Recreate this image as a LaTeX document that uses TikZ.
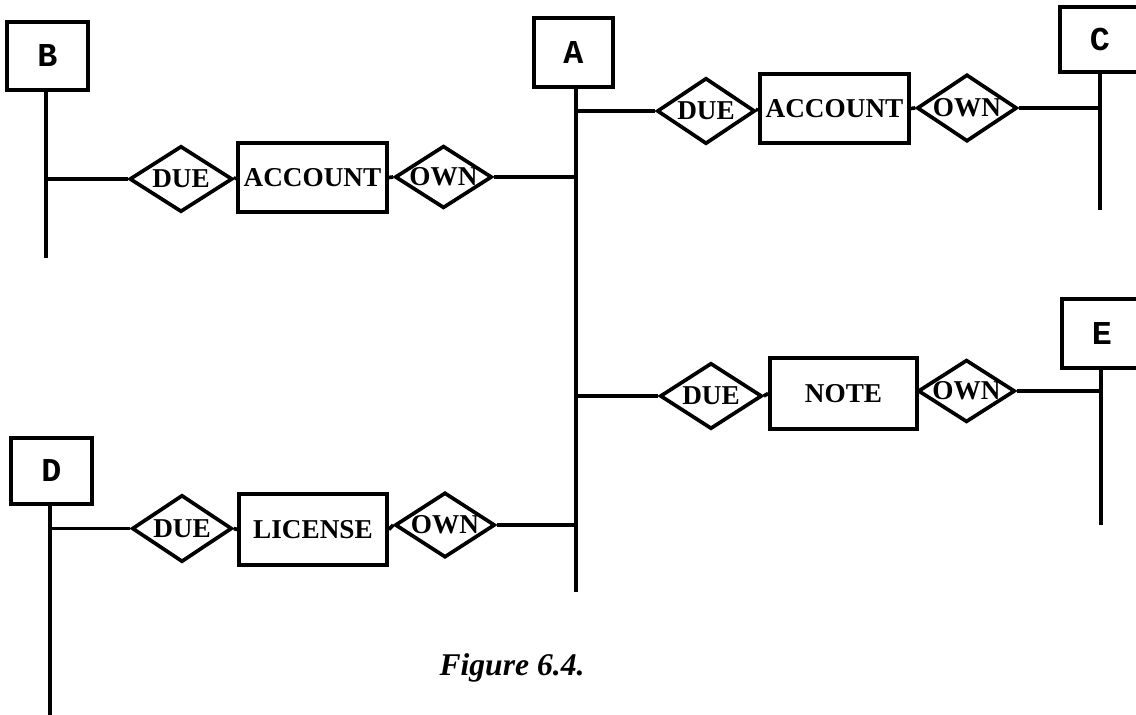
\documentclass[tikz,border=0pt]{standalone}
\usepackage{fontspec}
\setmainfont{Liberation Serif}
\newfontfamily\entfont{Liberation Mono}
\usetikzlibrary{shapes.geometric}
\begin{document}
\begin{tikzpicture}[x=0.02cm,y=-0.02cm,line width=2.1pt,
  ent/.style 2 args={draw,rectangle,inner sep=0pt,minimum width=#1*0.02cm,minimum height=#2*0.02cm,font=\entfont\bfseries\fontsize{19}{19}\selectfont},
  obj/.style 2 args={draw,rectangle,inner sep=0pt,minimum width=#1*0.02cm,minimum height=#2*0.02cm,font=\bfseries\fontsize{15.5}{16}\selectfont},
  rel/.style 2 args={draw,diamond,aspect=1.55,inner sep=0pt,minimum width=#1*0.02cm,minimum height=#2*0.02cm,font=\bfseries\fontsize{15.5}{16}\selectfont},
  caption/.style={font=\bfseries\itshape\fontsize{18}{18}\selectfont}]
\useasboundingbox (0,0) rectangle (1136,715);
% entity boxes
\node[ent={81}{68}] (B) at (47.5,56) {B};
\node[ent={79}{69}] (A) at (573.5,52.5) {A};
\node[ent={80}{65}] (C) at (1100,39.5) {C};
\node[ent={80}{69}] (E) at (1102,333.5) {E};
\node[ent={81}{66}] (D) at (51.5,471) {D};
% vertical lines
\coordinate (Bend) at (46,258);
\coordinate (Aend) at (576,592);
\coordinate (Cend) at (1100,210);
\coordinate (Eend) at (1101,525);
\coordinate (Dend) at (50,715);
\draw (B.south -| Bend) -- (Bend);
\draw (A.south -| Aend) -- (Aend);
\draw (C.south -| Cend) -- (Cend);
\draw (E.south -| Eend) -- (Eend);
\draw (D.south -| Dend) -- (Dend);
% row 1 (B - A)
\node[rel={103}{66}] (DUE1) at (181,179) {DUE};
\node[obj={149}{69}] (ACC1) at (312.5,177.5) {ACCOUNT};
\node[rel={97}{61}] (OWN1) at (443.5,177) {OWN};
\draw (DUE1.west) -- (DUE1.west -| Bend);
\draw (DUE1.east) -- (ACC1.west);
\draw (ACC1.east) -- (OWN1.west);
\draw (OWN1.east) -- (OWN1.east -| Aend);
% row 2 (A - C)
\node[rel={98}{66}] (DUE2) at (706,111) {DUE};
\node[obj={149}{69}] (ACC2) at (834.5,108.5) {ACCOUNT};
\node[rel={100}{67}] (OWN2) at (967,108) {OWN};
\draw (DUE2.west) -- (DUE2.west -| Aend);
\draw (DUE2.east) -- (ACC2.west);
\draw (ACC2.east) -- (OWN2.west);
\draw (OWN2.east) -- (OWN2.east -| Cend);
% row 3 (A - E)
\node[rel={102}{66}] (DUE3) at (711,396) {DUE};
\node[obj={147}{71}] (NOTE) at (843.5,393.5) {NOTE};
\node[rel={97}{60}] (OWN3) at (966.5,391) {OWN};
\draw (DUE3.west) -- (DUE3.west -| Aend);
\draw (DUE3.east) -- (NOTE.west);
\draw (NOTE.east) -- (OWN3.west);
\draw (OWN3.east) -- (OWN3.east -| Eend);
% row 4 (D - A)
\node[rel={100}{67}] (DUE4) at (182,528.5) {DUE};
\node[obj={148}{71}] (LIC) at (313,529.5) {LICENSE};
\node[rel={100}{65}] (OWN4) at (445,525) {OWN};
\draw (DUE4.west) -- (DUE4.west -| Dend);
\draw (DUE4.east) -- (LIC.west);
\draw (LIC.east) -- (OWN4.west);
\draw (OWN4.east) -- (OWN4.east -| Aend);
% caption
\node[caption] (cap) at (512,668) {Figure 6.4.};
\end{tikzpicture}
\end{document}
